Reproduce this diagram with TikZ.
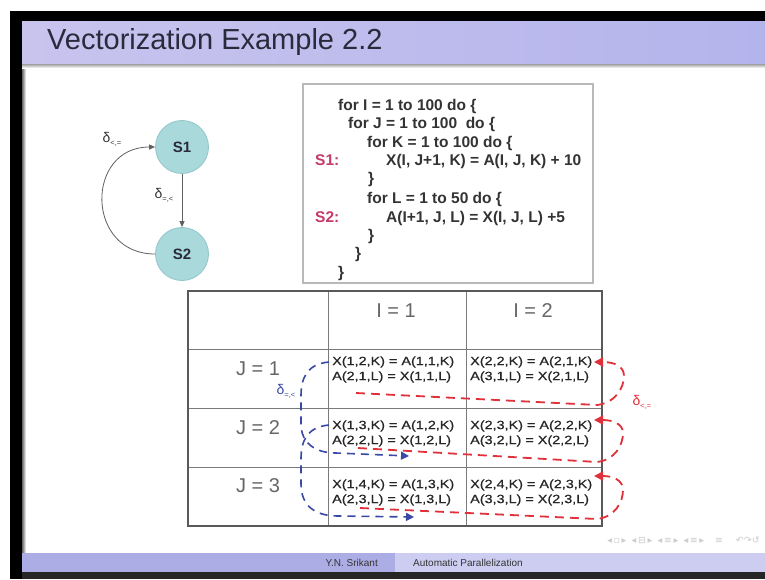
\documentclass[tikz,border=0pt]{standalone}
\usepackage{fontspec}
\setmainfont{Liberation Sans}
\newfontfamily\symfont{DejaVu Sans}
\newfontfamily\cellfont[FakeBold=0.5]{Liberation Sans}
\usetikzlibrary{arrows.meta}

\definecolor{titleL}{HTML}{C8C4EE}
\definecolor{titleR}{HTML}{B4B4EC}
\definecolor{titleink}{HTML}{2A2A3C}
\definecolor{footdark}{HTML}{ADADE6}
\definecolor{footlight}{HTML}{CDCDF2}
\definecolor{nodefill}{HTML}{A9D9DB}
\definecolor{nodeedge}{HTML}{90C6CA}
\definecolor{labelred}{HTML}{C63A6A}
\definecolor{depred}{HTML}{E0303A}
\definecolor{depblue}{HTML}{3A48A6}
\definecolor{ink}{HTML}{333333}
\definecolor{gridline}{HTML}{7A7A7A}

\newcommand\widen[1]{\scalebox{1.2}[1]{#1}}
\newcommand\dsub[1]{δ\raisebox{-3pt}{\fontsize{7.5}{8}\selectfont #1}}

\begin{document}
\begin{tikzpicture}[x=1pt,y=-1pt,
  state/.style={circle,draw=nodeedge,line width=0.8pt,fill=nodefill,minimum size=53pt,inner sep=0pt,
    font=\fontsize{15}{16}\selectfont\bfseries,text=titleink},
  deparrow/.style={draw=gray!75!black,line width=0.8pt,-{Triangle[length=6pt,width=5pt]}},
  codeline/.style={anchor=base west,inner sep=0pt,font=\fontsize{15.5}{17}\selectfont\bfseries,text=ink},
  stlabel/.style={anchor=base west,inner sep=0pt,font=\fontsize{15.5}{17}\selectfont\bfseries,text=labelred},
  cell/.style={anchor=west,inner sep=0pt,font=\cellfont\fontsize{12}{13}\selectfont,text=black!85},
  head/.style={inner sep=0pt,font=\fontsize{20}{22}\selectfont,text=gray!80!black},
  deltalabel/.style={inner sep=0pt,font=\fontsize{14}{15}\selectfont},
  reddep/.style={draw=depred,line width=1.8pt,dash pattern=on 9pt off 6pt,
    -{Triangle[length=9pt,width=9pt]}},
  bluedep/.style={draw=depblue,line width=1.6pt,dash pattern=on 8pt off 6pt,
    -{Triangle[length=8pt,width=8pt]}},
]
\useasboundingbox (0,0) rectangle (765,579);
\fill[white] (0,0) rectangle (765,579);

% slide frame and title bar
\fill[black] (10,11) rectangle (765,21);
\fill[black] (10,11) rectangle (22,579);
\fill[black!85] (22,572) rectangle (765,579);
\shade[left color=gray!80!black,right color=white] (22,21) rectangle (26,553);
\shade[left color=titleL,right color=titleR] (22,21) rectangle (765,64);
\shade[top color=gray!75,bottom color=white] (22,64) rectangle (765,68);
\node[anchor=west,inner sep=0pt,font=\fontsize{29}{30}\selectfont,text=titleink] (title) at (47,42) {Vectorization Example 2.2};

% footer
\fill[footdark] (22,553) rectangle (395,572);
\fill[footlight] (395,553) rectangle (765,572);
\node[anchor=east,inner sep=0pt,font=\fontsize{10}{11}\selectfont,text=ink] (author) at (378,563) {Y.N. Srikant};
\node[anchor=west,inner sep=0pt,font=\fontsize{10}{11}\selectfont,text=ink] (talk) at (413,563) {Automatic Parallelization};
\node[anchor=east,inner sep=0pt,font=\symfont\fontsize{9.5}{10}\selectfont,text=gray!40] (nav) at (760,540)
  {◂\,▫\,▸\;\;◂\,⊟\,▸\;\;◂\,≡\,▸\;\;◂\,≡\,▸\;\;\;\;≡\;\;\;\;\;↶↷↺};

% dependence graph
\node[state] (s1) at (182,147) {S1};
\node[state] (s2) at (182,254) {S2};
\draw[deparrow] (s1) -- (s2);
\draw[deparrow] (s2.west) .. controls +(-70,0) and +(-70,0) .. (s1.west);
\node[deltalabel,text=ink] (dgback) at (112,139) {\dsub{<,=}};
\node[deltalabel,text=ink] (dgfwd) at (164,195) {\dsub{=,<}};

% loop nest
\draw[gray!55,line width=1.3pt] (303,84) rectangle (593,283);
\node[codeline] (l1) at (338,110) {for I = 1 to 100 do \{};
\node[codeline] (l2) at (348,128) {for J = 1 to 100\ \ do \{};
\node[codeline] (l3) at (367,147) {for K = 1 to 100 do \{};
\node[stlabel] (st1) at (315,165) {S1:};
\node[codeline] (l4) at (386,165) {X(I, J+1, K) = A(I, J, K) + 10};
\node[codeline] (l5) at (368,183) {\}};
\node[codeline] (l6) at (367,203) {for L = 1 to 50 do \{};
\node[stlabel] (st2) at (315,222) {S2:};
\node[codeline] (l7) at (386,222) {A(I+1, J, L) = X(I, J, L) +5};
\node[codeline] (l8) at (368,240) {\}};
\node[codeline] (l9) at (355,258) {\}};
\node[codeline] (l10) at (338,277) {\}};

% iteration table
\draw[gridline,line width=0.9pt] (328,291) -- (328,526) (466,291) -- (466,526)
  (189,349) -- (602,349) (189,408) -- (602,408) (189,467) -- (602,467);
\draw[gray!70!black,line width=2pt] (188,291) rectangle (602,526);
\node[head] (hI1) at (396,311) {I = 1};
\node[head] (hI2) at (533,311) {I = 2};
\node[head] (hJ1) at (258,369) {J = 1};
\node[head] (hJ2) at (258,428) {J = 2};
\node[head] (hJ3) at (258,486) {J = 3};

\node[cell] (a11) at (332,362) {\widen{X(1,2,K) = A(1,1,K)}};
\node[cell] (b11) at (332,377) {\widen{A(2,1,L) = X(1,1,L)}};
\node[cell] (a21) at (470,362) {\widen{X(2,2,K) = A(2,1,K)}};
\node[cell] (b21) at (470,377) {\widen{A(3,1,L) = X(2,1,L)}};
\node[cell] (a12) at (332,426) {\widen{X(1,3,K) = A(1,2,K)}};
\node[cell] (b12) at (332,441) {\widen{A(2,2,L) = X(1,2,L)}};
\node[cell] (a22) at (470,426) {\widen{X(2,3,K) = A(2,2,K)}};
\node[cell] (b22) at (470,441) {\widen{A(3,2,L) = X(2,2,L)}};
\node[cell] (a13) at (332,485) {\widen{X(1,4,K) = A(1,3,K)}};
\node[cell] (b13) at (332,500) {\widen{A(2,3,L) = X(1,3,L)}};
\node[cell] (a23) at (470,485) {\widen{X(2,4,K) = A(2,3,K)}};
\node[cell] (b23) at (470,500) {\widen{A(3,3,L) = X(2,3,L)}};

% dependences carried by J (blue) and by I (red)
\coordinate (bj1s) at (329,362);
\coordinate (bj1e) at (409,456);
\coordinate (bj2s) at (329,425);
\coordinate (bj2e) at (414,517);
\draw[bluedep] (bj1s) .. controls (307,364) and (301,378) .. (301,396) -- (301,424)
  .. controls (301,442) and (314,453) .. (336,453) -- (bj1e);
\draw[bluedep] (bj2s) .. controls (307,427) and (301,441) .. (301,459) -- (301,484)
  .. controls (301,505) and (314,516) .. (338,516) -- (bj2e);
\node[deltalabel,text=depblue] (dtJ) at (286,391) {\dsub{=,<}};

\coordinate (ri1s) at (356,393);
\coordinate (ri1e) at (594,362);
\coordinate (ri2s) at (358,448);
\coordinate (ri2e) at (594,420);
\coordinate (ri3s) at (360,508);
\coordinate (ri3e) at (594,476);
\draw[reddep] (ri1s) -- (597,405) .. controls (615,403) and (624,388) .. (624,376)
  .. controls (624,366) and (614,362) .. (ri1e);
\draw[reddep] (ri2s) -- (597,462) .. controls (615,460) and (623,445) .. (623,433)
  .. controls (623,424) and (613,420) .. (ri2e);
\draw[reddep] (ri3s) -- (597,519) .. controls (615,517) and (623,502) .. (623,490)
  .. controls (623,480) and (613,476) .. (ri3e);
\node[deltalabel,text=depred] (dtI) at (642,402) {\dsub{<,=}};
\end{tikzpicture}
\end{document}
